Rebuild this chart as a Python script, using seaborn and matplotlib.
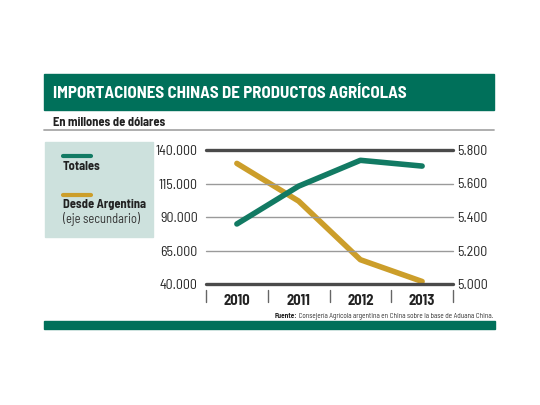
import matplotlib
matplotlib.use("Agg")
import matplotlib.pyplot as plt
import matplotlib.transforms as mtransforms
import seaborn as sns
import pandas as pd

# ---- data ----
years = ["2010", "2011", "2012", "2013"]
totales = [84800, 113000, 132300, 128000]
argentina = [5720, 5495, 5145, 5015]
left_ticks = [40000, 65000, 90000, 115000, 140000]
right_ticks = [5000, 5200, 5400, 5600, 5800]

title = "IMPORTACIONES CHINAS DE PRODUCTOS AGRÍCOLAS"
subtitle = "En millones de dólares"
legend_labels = ["Totales", "Desde Argentina", "(eje secundario)"]
source_bold = "Fuente:"
source_text = " Consejería Agrícola argentina en China sobre la base de Aduana China."

sns.set_theme(style="white")
FONT = ["Barlow Semi Condensed", "Liberation Sans Narrow", "DejaVu Sans"]
plt.rcParams["font.family"] = FONT

GREEN_BAND = "#00705A"
GREEN = "#127A63"
GOLD = "#CC9E2A"
LEGEND_BG = "#CDE1DD"

W, H = 540, 405
fig = plt.figure(figsize=(W / 100, H / 100), dpi=100)
fig.patch.set_facecolor("white")


def fx(x):
    return x / W


def fy(y):
    return 1 - y / H


def rect(x0, y0, x1, y1, color):
    fig.patches.append(plt.Rectangle((fx(x0), fy(y1)), fx(x1 - x0), (y1 - y0) / H,
                                     transform=fig.transFigure, color=color, zorder=0))


# title band
rect(44, 74, 494, 110, GREEN_BAND)
fig.text(fx(53), fy(93), title, color="white", fontsize=12.2, fontweight="bold",
         va="center", ha="left")
# subtitle
fig.text(fx(53), fy(123), subtitle, color="#222222", fontsize=9, fontweight="bold",
         va="center", ha="left")
fig.lines.append(plt.Line2D([fx(44), fx(494)], [fy(130), fy(130)], transform=fig.transFigure,
                            color="#A8A8A8", lw=1.3))

# legend box
rect(45, 142, 153, 237, LEGEND_BG)
fig.lines.append(plt.Line2D([fx(63), fx(91)], [fy(156), fy(156)], transform=fig.transFigure,
                            color=GREEN, lw=3, solid_capstyle="round"))
fig.text(fx(63), fy(166), legend_labels[0], fontsize=9, fontweight="bold", color="#222222",
         va="center", ha="left")
fig.lines.append(plt.Line2D([fx(63), fx(91)], [fy(195), fy(195)], transform=fig.transFigure,
                            color=GOLD, lw=3, solid_capstyle="round"))
fig.text(fx(63), fy(205), legend_labels[1], fontsize=9, fontweight="bold", color="#222222",
         va="center", ha="left")
fig.text(fx(63), fy(219), legend_labels[2], fontsize=9, color="#333333",
         va="center", ha="left")

# bottom band
rect(44, 321, 495, 329, GREEN_BAND)

# ---- axes ----
ax_l, ax_r, ax_t, ax_b = 206, 453, 150, 284
ax = fig.add_axes([fx(ax_l), fy(ax_b), fx(ax_r - ax_l), (ax_b - ax_t) / H])
ax.set_facecolor("none")
df = pd.DataFrame({"year": years, "x": range(len(years)), "totales": totales,
                   "argentina": argentina})

ax.set_xlim(-0.5, len(years) - 0.5)
ax.set_ylim(left_ticks[0], left_ticks[-1])
for i, v in enumerate(left_ticks):
    if i in (0, len(left_ticks) - 1):
        ax.axhline(v, color="#4A4A4A", lw=2.4, clip_on=False, zorder=1)
    else:
        ax.axhline(v, color="#9A9A9A", lw=1.0, clip_on=False, zorder=1)

sns.lineplot(data=df, x="x", y="totales", ax=ax, color=GREEN, lw=4, zorder=3,
             solid_capstyle="round", clip_on=False)

ax2 = ax.twinx()
ax2.set_ylim(right_ticks[0], right_ticks[-1])
sns.lineplot(data=df, x="x", y="argentina", ax=ax2, color=GOLD, lw=4, zorder=2,
             solid_capstyle="round", clip_on=False)
ax.set_zorder(ax2.get_zorder() + 1)
ax.patch.set_visible(False)

for a in (ax, ax2):
    for s in a.spines.values():
        s.set_visible(False)
    a.set_xlabel("")
    a.set_ylabel("")

ax.set_yticks(left_ticks)
ax.set_yticklabels([f"{v:,}".replace(",", ".") for v in left_ticks])
ax.tick_params(axis="y", length=0, pad=6, labelsize=10, labelcolor="#222222")
ax2.set_yticks(right_ticks)
ax2.set_yticklabels([f"{v:,}".replace(",", ".") for v in right_ticks])
ax2.tick_params(axis="y", length=0, pad=3, labelsize=10, labelcolor="#222222")

ax.set_xticks(range(len(years)))
ax.set_xticklabels(years, fontweight="bold")
ax.tick_params(axis="x", length=0, pad=7, labelsize=10.5, labelcolor="#222222",
               labelbottom=True)
ax2.tick_params(axis="x", labelbottom=False, labeltop=False, length=0)

trans = mtransforms.blended_transform_factory(ax.transData, ax.transAxes)
h = ax_b - ax_t
for k in range(len(years) + 1):
    ax.plot([k - 0.5, k - 0.5], [-6 / h, -18 / h], transform=trans, color="#666666",
            lw=1.0, clip_on=False)

# source
fig.canvas.draw()
r = fig.canvas.get_renderer()
t2 = fig.text(fx(493), fy(316), source_text, fontsize=5.2, color="#333333",
              ha="right", va="center")
bb = t2.get_window_extent(renderer=r)
fig.text(bb.x0 / W, fy(316), source_bold, fontsize=5.2, fontweight="bold", color="#222222",
         ha="right", va="center")

fig.savefig("out.png", dpi=100, facecolor="white")
